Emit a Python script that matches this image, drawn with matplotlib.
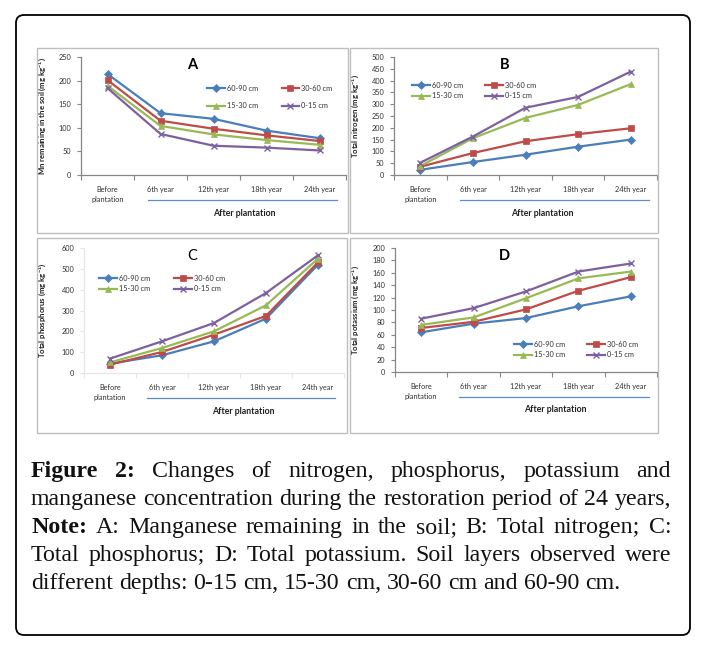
import matplotlib
matplotlib.use('Agg')
import matplotlib.pyplot as plt
from matplotlib.patches import FancyBboxPatch, Rectangle
import matplotlib.transforms as mtransforms

# ---------------- data ----------------
categories = ['Before\nplantation', '6th year', '12th year', '18th year', '24th year']
depths = ['60-90 cm', '30-60 cm', '15-30 cm', '0-15 cm']

mn_60_90 = [214, 131, 119, 94, 78]
mn_30_60 = [201, 115, 98, 84, 72]
mn_15_30 = [189, 104, 86, 74, 64]
mn_0_15 = [184, 87, 62, 58, 52]

n_60_90 = [22, 55, 86, 120, 150]
n_30_60 = [35, 93, 143, 173, 198]
n_15_30 = [38, 156, 242, 297, 385]
n_0_15 = [52, 163, 285, 331, 438]

p_60_90 = [45, 85, 152, 261, 520]
p_30_60 = [40, 101, 184, 274, 531]
p_15_30 = [51, 120, 200, 325, 549]
p_0_15 = [69, 152, 240, 384, 565]

k_60_90 = [64, 78, 87, 106, 122]
k_30_60 = [71, 81, 101, 131, 153]
k_15_30 = [76, 88, 119, 151, 162]
k_0_15 = [86, 103, 130, 162, 175]

caption_lines = [
    "Figure 2: Changes of nitrogen, phosphorus, potassium and",
    "manganese concentration during the restoration period of 24 years,",
    "Note: A: Manganese remaining in the soil; B: Total nitrogen; C:",
    "Total phosphorus; D: Total potassium. Soil layers observed were",
    "different depths: 0-15 cm, 15-30 cm, 30-60 cm and 60-90 cm.",
]
bold_words = {(0, 0), (0, 1), (2, 0)}

# ---------------- style ----------------
W, H = 704, 649
DPI = 100
colors = ['#4A7EBB', '#BE4B48', '#98B954', '#7D60A0']
markers = ['D', 's', '^', 'x']
msizes = [3.6, 5.0, 4.6, 4.6]
SANS = ['Lato', 'DejaVu Sans']
plt.rcParams['font.family'] = SANS
plt.rcParams['mathtext.default'] = 'regular'

fig = plt.figure(figsize=(W / DPI, H / DPI), dpi=DPI)
fig.patch.set_facecolor('white')
px = mtransforms.Affine2D().scale(1, -1).translate(0, H)  # top-down pixel coords


def add_ax(x0, y0, x1, y1):
    return fig.add_axes([x0 / W, 1 - y1 / H, (x1 - x0) / W, (y1 - y0) / H])


# outer rounded box
fig.add_artist(FancyBboxPatch((16, 15), 674, 620, boxstyle='round,pad=0,rounding_size=8',
                              transform=px, fill=False, ec='black', lw=1.3))

# panel frames
for (x0, y0, x1, y1) in [(37, 48, 348, 233), (350, 48, 658, 233),
                         (37, 238, 347, 433), (350, 238, 658, 433)]:
    fig.add_artist(Rectangle((x0, y0), x1 - x0, y1 - y0, transform=px, fill=False,
                             ec='#BFBFBF', lw=1.0))

panels = [
    dict(box=(81, 57, 346, 175), series=[mn_60_90, mn_30_60, mn_15_30, mn_0_15],
         ymax=250, ystep=50, ylabel='Mn remaining in the soil (mg kg$^{-1}$)',
         letter='A', lw='bold', lpos=(0.42, 0.93), ylab_off=33,
         leg=dict(x=207, y=85, ls=1.4, cs=3.2), after_x=2.59, line=(0.76, 4.33),
         axcol='#868686'),
    dict(box=(394, 57, 657, 175), series=[n_60_90, n_30_60, n_15_30, n_0_15],
         ymax=500, ystep=50, ylabel='Total nitrogen (mg kg$^{-1}$)',
         letter='B', lw='bold', lpos=(0.42, 0.93), ylab_off=33,
         leg=dict(x=412, y=82, ls=0.45, cs=3.0), after_x=2.31, line=(0.76, 4.34),
         axcol='#868686'),
    dict(box=(84, 248, 344, 373), series=[p_60_90, p_30_60, p_15_30, p_0_15],
         ymax=600, ystep=100, ylabel='Total phosphorus (mg kg$^{-1}$)',
         letter='C', lw='normal', lpos=(0.415, 0.94), ylab_off=36,
         leg=dict(x=99, y=275, ls=0.45, cs=3.3), after_x=2.56, line=(0.71, 4.33),
         axcol='#E6E6E6'),
    dict(box=(395, 248, 657, 372), series=[k_60_90, k_30_60, k_15_30, k_0_15],
         ymax=200, ystep=20, ylabel='Total potassium (mg kg$^{-1}$)',
         letter='D', lw='bold', lpos=(0.416, 0.935), ylab_off=34,
         leg=dict(x=514, y=341, ls=0.45, cs=3.0), after_x=2.55, line=(0.73, 4.34),
         axcol='#868686'),
]

x = list(range(len(categories)))
for p in panels:
    x0, y0, x1, y1 = p['box']
    ax = add_ax(x0, y0, x1, y1)
    handles = []
    for i, s in enumerate(p['series']):
        h, = ax.plot(x, s, color=colors[i], lw=1.6, marker=markers[i], ms=msizes[i],
                     mew=1.0 if markers[i] == 'x' else 0.5, mec=colors[i], mfc=colors[i],
                     label=depths[i], clip_on=False, zorder=3)
        handles.append(h)
    ax.set_xlim(-0.5, 4.5)
    ax.set_ylim(0, p['ymax'])
    ax.set_yticks(range(0, p['ymax'] + 1, p['ystep']))
    ax.set_xticks(x)
    ax.set_xticklabels(categories, fontsize=5.3, color='#303030', linespacing=1.5)
    ax.set_xticks([i - 0.5 for i in range(len(categories) + 1)], minor=True)
    ax.tick_params(axis='x', which='major', length=0, pad=8)
    ax.tick_params(axis='x', which='minor', length=3.5, width=0.8, color=p['axcol'], direction='out')
    ax.tick_params(axis='y', length=3, width=0.8, color=p['axcol'], labelsize=5.3,
                   labelcolor='#303030', pad=4)
    for sp in ['top', 'right']:
        ax.spines[sp].set_visible(False)
    for sp in ['left', 'bottom']:
        ax.spines[sp].set_color(p['axcol'])
        ax.spines[sp].set_linewidth(0.9)
    ax.patch.set_alpha(0)
    ax.set_ylabel(p['ylabel'], fontsize=5.6, fontweight='bold', color='#202020')
    ax.yaxis.set_label_coords(-p['ylab_off'] / (x1 - x0), 0.5)
    ax.text(p['lpos'][0], p['lpos'][1], p['letter'], transform=ax.transAxes,
            fontsize=10.5, fontweight=p['lw'], ha='center', va='center', color='black')
    hpx = y1 - y0
    tr = mtransforms.blended_transform_factory(ax.transData, ax.transAxes)
    ax.plot(list(p['line']), [-25 / hpx, -25 / hpx], transform=tr, color='#5B8FD0',
            lw=0.9, clip_on=False)
    ax.text(p['after_x'], -38 / hpx, 'After plantation', transform=tr, fontsize=6.3,
            fontweight='bold', ha='center', va='center', color='#202020')
    lg = p['leg']
    order = [0, 2, 1, 3]
    fig.legend([handles[i] for i in order], [depths[i] for i in order],
               loc='upper left', bbox_to_anchor=(lg['x'] / W, 1 - lg['y'] / H),
               ncol=2, frameon=False, fontsize=5.3, handlelength=2.4, handletextpad=0.3,
               columnspacing=lg['cs'], labelspacing=lg['ls'], borderpad=0,
               borderaxespad=0, labelcolor='#303030')

# ---------------- caption (justified) ----------------
SERIF = ['Liberation Serif', 'DejaVu Serif']
left, right = 31, 671
baselines = [477, 505, 533, 561, 589]
renderer = fig.canvas.get_renderer()


def word_width(word, size, bold):
    t = fig.text(0, 0, word, fontsize=size, family=SERIF,
                 fontweight='bold' if bold else 'normal')
    w = t.get_window_extent(renderer=renderer).width
    t.remove()
    return w


# font size so that line 2 fits the column width naturally
base = 10.0
words2 = caption_lines[1].split(' ')
sp_base = word_width('a a', base, False) - 2 * word_width('a', base, False)
w2 = sum(word_width(w, base, False) for w in words2) + (len(words2) - 1) * sp_base
fsize = base * (right - left) / w2

for li, line in enumerate(caption_lines):
    words = line.split(' ')
    bolds = [(li, wi) in bold_words for wi in range(len(words))]
    widths = [word_width(w, fsize, b) for w, b in zip(words, bolds)]
    if li < len(caption_lines) - 1:
        gap = (right - left - sum(widths)) / (len(words) - 1)
    else:
        gap = word_width('a a', fsize, False) - 2 * word_width('a', fsize, False)
    xpos = left
    for w, b, wd in zip(words, bolds, widths):
        fig.text(xpos, baselines[li], w, transform=px, fontsize=fsize, family=SERIF,
                 fontweight='bold' if b else 'normal', va='baseline', ha='left', color='#111111')
        xpos += wd + gap

fig.savefig('out.png', dpi=DPI, facecolor='white')
